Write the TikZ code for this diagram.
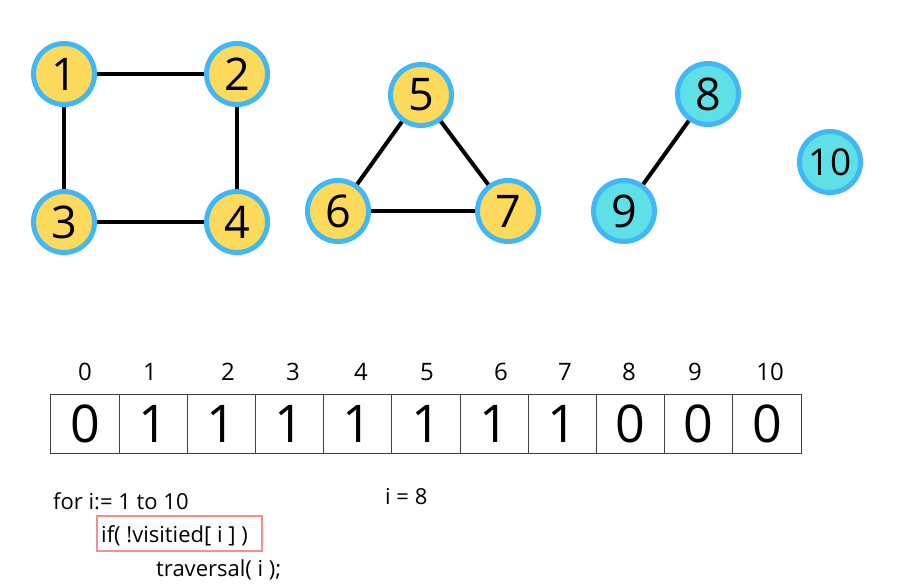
\documentclass[tikz,border=0pt]{standalone}
\usepackage{fontspec}
\setmainfont{Open Sans}
\definecolor{vyellow}{HTML}{FDDA5C}
\definecolor{vcyan}{HTML}{5EE0E6}
\definecolor{vring}{HTML}{41B8F5}
\definecolor{boxred}{HTML}{F29090}
\begin{document}
\begin{tikzpicture}[x=1pt,y=-1pt,
  vertex/.style={circle,draw=vring,line width=5pt,minimum size=61pt,inner sep=0pt,
    font=\fontsize{45}{45}\selectfont},
  visited/.style={vertex,fill=vyellow},
  unvisited/.style={vertex,fill=vcyan},
  edge/.style={line width=4pt,black},
  cell/.style={draw=black!75,line width=1pt,minimum width=68.2pt,minimum height=59pt,
    inner sep=0pt,font=\fontsize{52}{52}\selectfont},
  idx/.style={font=\fontsize{24}{24}\selectfont,inner sep=0pt},
  code/.style={font=\fontsize{22}{22}\selectfont,inner sep=0pt,anchor=base west}]
\useasboundingbox (0,0) rectangle (899,584);

% graph: visited component {1,2,3,4}, {5,6,7}; unvisited {8,9}, {10}
\node[visited] (n1) at (64,74) {1};
\node[visited] (n2) at (237,74) {2};
\node[visited] (n3) at (64,222) {3};
\node[visited] (n4) at (237,222) {4};
\node[visited] (n5) at (421,95) {5};
\node[visited] (n6) at (338,211) {6};
\node[visited] (n7) at (508,211) {7};
\node[unvisited] (n8) at (708,94) {8};
\node[unvisited] (n9) at (624,211) {9};
\node[unvisited,font=\fontsize{37}{37}\selectfont] (n10) at (830,162) {10};

\draw[edge] (n1) -- (n2);
\draw[edge] (n1) -- (n3);
\draw[edge] (n2) -- (n4);
\draw[edge] (n3) -- (n4);
\draw[edge] (n5) -- (n6);
\draw[edge] (n5) -- (n7);
\draw[edge] (n6) -- (n7);
\draw[edge] (n8) -- (n9);

% visited array
\foreach \v [count=\k from 0] in {0,1,1,1,1,1,1,1,0,0,0} {
  \node[cell] (c\k) at ({51+68.18*\k+34.09},423.5) {\v};
}
\node[idx] (i0) at (85,372) {0};
\node[idx] (i1) at (150,372) {1};
\node[idx] (i2) at (228,372) {2};
\node[idx] (i3) at (293,372) {3};
\node[idx] (i4) at (361,372) {4};
\node[idx] (i5) at (427,372) {5};
\node[idx] (i6) at (501,372) {6};
\node[idx] (i7) at (565,372) {7};
\node[idx] (i8) at (629,372) {8};
\node[idx] (i9) at (695,372) {9};
\node[idx] (i10) at (770,372) {10};

% pseudo code
\node[code] (l1) at (53,509) {for i:= 1 to 10};
\node[code] (l2) at (101,542) {if( !visitied[ i ] )};
\node[code] (l3) at (156,576) {traversal( i );};
\node[code] (cur) at (385,504) {i = 8};
\draw[boxred,line width=2pt] (97,516) rectangle (262,551);
\end{tikzpicture}
\end{document}
